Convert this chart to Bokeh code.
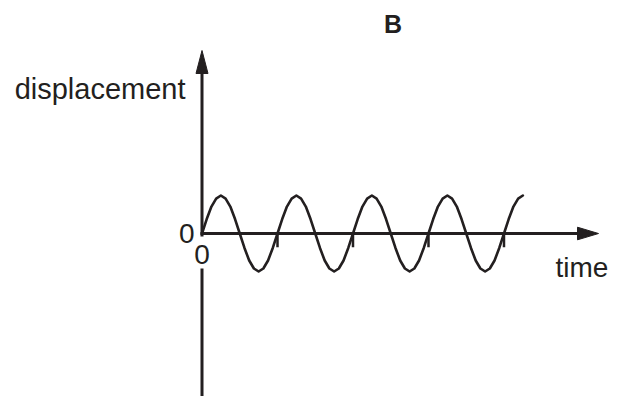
from bokeh.plotting import figure
from bokeh.models import Range1d, Label
from bokeh.embed import file_html
from bokeh.resources import INLINE

# ---- data ----
# displacement sampled every 1/16 of a period, in units of the amplitude
displacement = [
    0, 0.38, 0.71, 0.92, 1, 0.92, 0.71, 0.38, 0, -0.38, -0.71, -0.92, -1, -0.92, -0.71, -0.38,
    0, 0.38, 0.71, 0.92, 1, 0.92, 0.71, 0.38, 0, -0.38, -0.71, -0.92, -1, -0.92, -0.71, -0.38,
    0, 0.38, 0.71, 0.92, 1, 0.92, 0.71, 0.38, 0, -0.38, -0.71, -0.92, -1, -0.92, -0.71, -0.38,
    0, 0.38, 0.71, 0.92, 1, 0.92, 0.71, 0.38, 0, -0.38, -0.71, -0.92, -1, -0.92, -0.71, -0.38,
    0, 0.38, 0.71, 0.92, 1,
]
samples_per_period = 16
time = [i / samples_per_period for i in range(len(displacement))]  # in periods
tick_times = [1, 2, 3, 4]          # period marks on the time axis
tick_depth = -0.36
title_text = "B"
y_label = "displacement"
x_label = "time"
origin_y_label = "0"
origin_x_label = "0"

# ---- layout ----
W, H = 619, 396
X0, X1 = -2.669, 5.530
Y0, Y1 = -4.289, 6.132
px_x = W / (X1 - X0)
px_y = H / (Y1 - Y0)
INK = "#231f20"
FONT = "Liberation Sans"
dy = 10 / px_y   # text baseline correction

p = figure(width=W, height=H, x_range=Range1d(X0, X1), y_range=Range1d(Y0, Y1),
           output_backend="svg", toolbar_location=None,
           x_axis_location=None, y_axis_location=None,
           min_border=0, outline_line_color=None)
p.grid.visible = False
p.background_fill_color = "white"
p.border_fill_color = "white"

# vertical (displacement) axis with arrow
y_tip = 4.816
y_head = 23 / px_y
y_half = 6 / px_x
gap_top = -3 / px_y
gap_bot = -35 / px_y
p.segment(x0=[0, 0], y0=[y_tip - y_head + 0.02, gap_bot], x1=[0, 0], y1=[gap_top, Y0],
          line_color=INK, line_width=3)
p.patch(x=[-y_half, 0, y_half], y=[y_tip - y_head, y_tip, y_tip - y_head],
        fill_color=INK, line_color=INK, line_width=1)

# horizontal (time) axis with arrow
x_tip = 5.252
x_head = 21 / px_x
x_half = 6.3 / px_y
p.segment(x0=[-1.5 / px_x], y0=[0], x1=[x_tip - x_head + 0.02], y1=[0],
          line_color=INK, line_width=3)
p.patch(x=[x_tip - x_head, x_tip, x_tip - x_head], y=[x_half, 0, -x_half],
        fill_color=INK, line_color=INK, line_width=1)

# period tick marks
p.segment(x0=tick_times, y0=[0] * len(tick_times), x1=tick_times, y1=[tick_depth] * len(tick_times),
          line_color=INK, line_width=2.5)

# the wave
p.line(time, displacement, line_color=INK, line_width=2.6, line_join="round", line_cap="round")

# texts
p.add_layout(Label(x=2.53, y=5.263 + dy, text=title_text, text_font=FONT, text_font_style="bold",
                   text_font_size="25px", text_color=INK, text_align="center",
                   text_baseline="alphabetic"))
p.add_layout(Label(x=-0.2185, y=3.55 + dy, text=y_label, text_font=FONT, text_font_size="29px",
                   text_color=INK, text_align="right", text_baseline="alphabetic"))
p.add_layout(Label(x=-0.099, y=-0.27 + dy, text=origin_y_label, text_font=FONT, text_font_size="28px",
                   text_color=INK, text_align="right", text_baseline="alphabetic"))
p.add_layout(Label(x=0.0, y=-0.81 + dy, text=origin_x_label, text_font=FONT, text_font_size="28px",
                   text_color=INK, text_align="center", text_baseline="alphabetic"))
p.add_layout(Label(x=4.682, y=-1.158 + dy, text=x_label, text_font=FONT, text_font_size="28px",
                   text_color=INK, text_align="left", text_baseline="alphabetic"))

open("out.html", "w").write(file_html(p, INLINE))
